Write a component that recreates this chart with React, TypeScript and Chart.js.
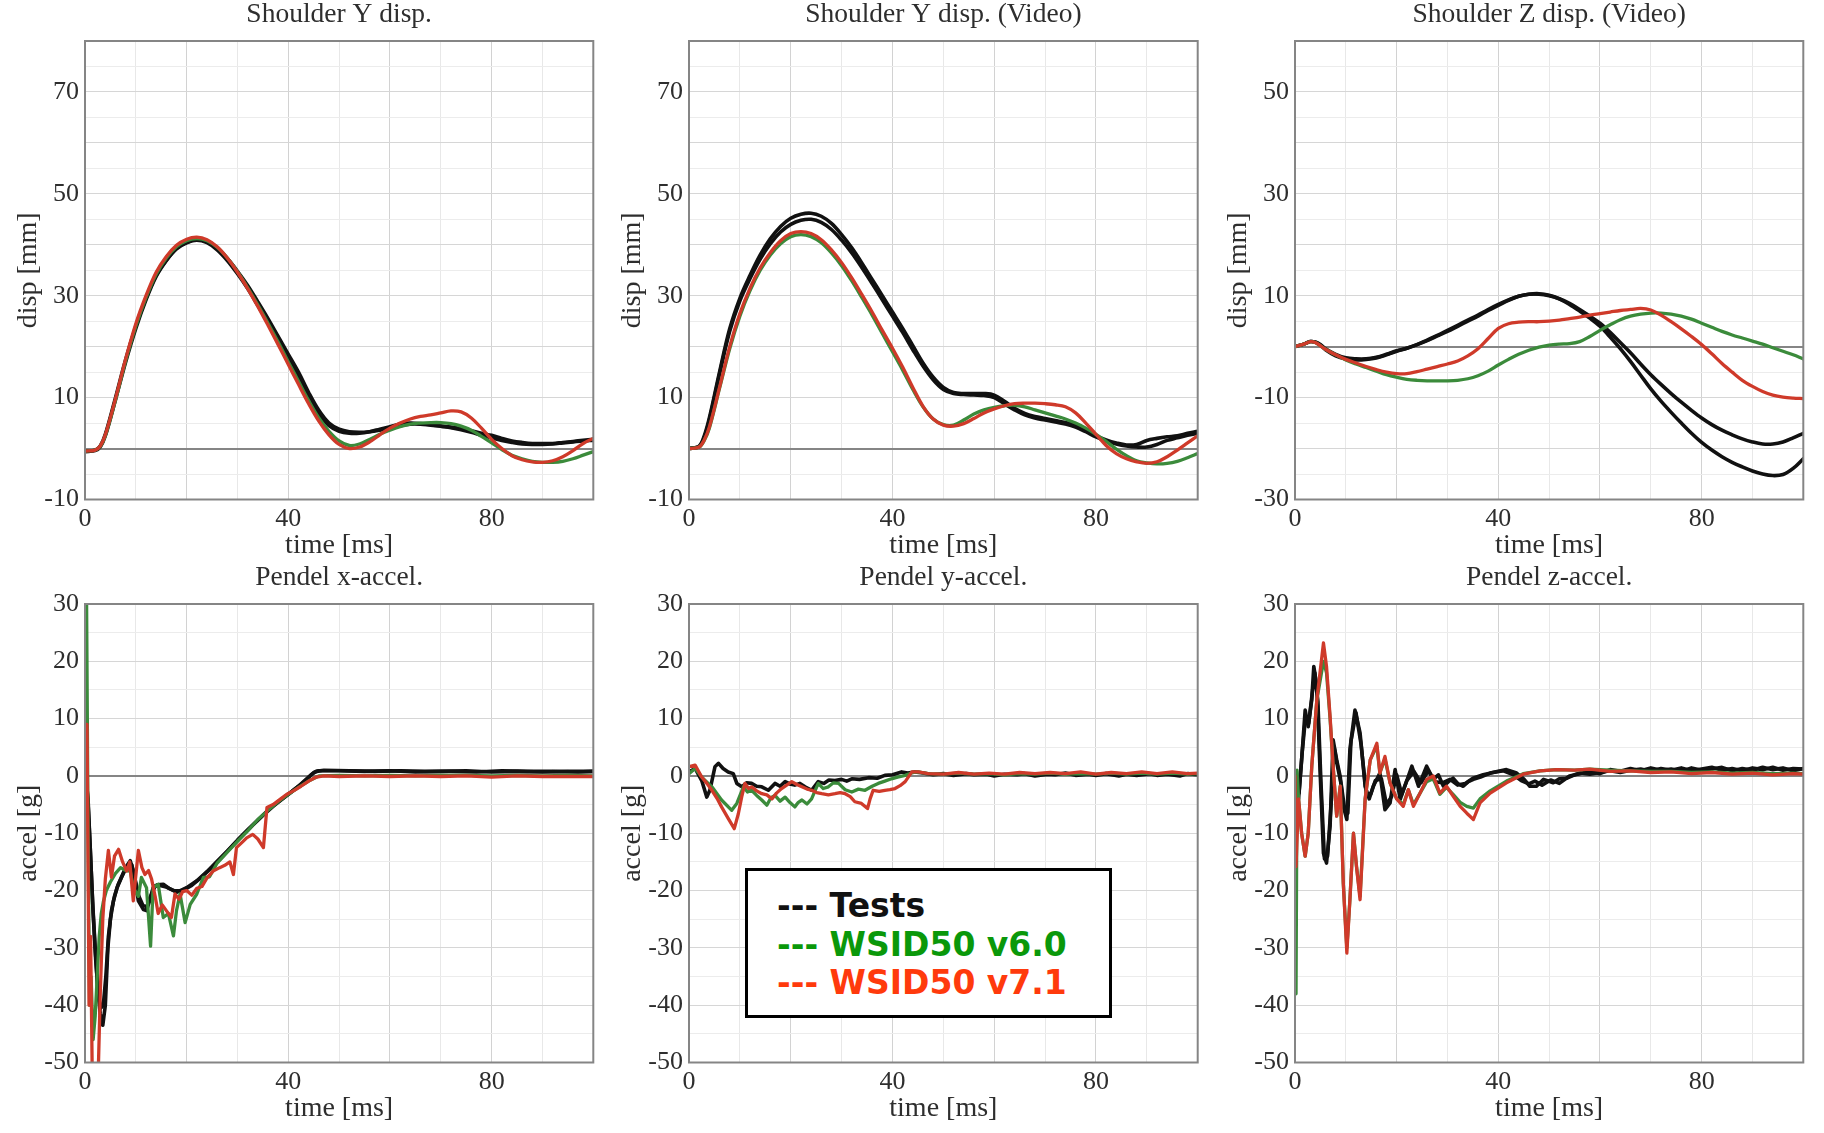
import React, { useEffect, useRef } from 'react';
import { Chart, registerables } from 'chart.js';

Chart.register(...registerables);

// ---------------- DATA ----------------
const panelTitles = [
  'Shoulder Y disp.',
  'Shoulder Y disp. (Video)',
  'Shoulder Z disp. (Video)',
  'Pendel x-accel.',
  'Pendel y-accel.',
  'Pendel z-accel.',
];
const xAxisTitle = 'time [ms]';
const yAxisTitles = ['disp [mm]', 'disp [mm]', 'disp [mm]', 'accel [g]', 'accel [g]', 'accel [g]'];
const xTickLabels = [0, 40, 80];
const yTickLabelsDispY = [-10, 10, 30, 50, 70];
const yTickLabelsDispZ = [-30, -10, 10, 30, 50];
const yTickLabelsAccel = [-50, -40, -30, -20, -10, 0, 10, 20, 30];
const legendLabels = ['Tests', 'WSID50 v6.0', 'WSID50 v7.1'];

// Panel 1: Shoulder Y disp.  [time ms, disp mm]
const p1Test1 = [[0,-0.5],[2,-0.3],[3,0.5],[4,2.8],[6,10],[8,17.5],[10,24],[12,29.5],[14,34],[16,37],[18,39.3],[20,40.5],[22,41],[24,40.6],[26,39.3],[28,37.3],[30,34.8],[32,32],[34,28.8],[36,25.5],[38,22],[40,18.5],[42,15],[44,11],[46,7.5],[48,5],[50,3.8],[52,3.3],[54,3.2],[56,3.3],[58,3.6],[60,4],[62,4.5],[64,4.8],[66,4.8],[68,4.6],[70,4.4],[72,4.2],[74,3.9],[76,3.5],[78,3],[80,2.6],[82,2],[84,1.5],[86,1.2],[88,1],[90,1],[92,1],[94,1.2],[96,1.4],[98,1.6],[100,1.8]];
const p1Test2 = [[0,-0.6],[2,-0.4],[3,0.3],[4,2.5],[6,9.6],[8,17],[10,23.6],[12,29.2],[14,33.8],[16,36.9],[18,39.2],[20,40.4],[22,40.9],[24,40.4],[26,39],[28,36.9],[30,34.3],[32,31.4],[34,28.1],[36,24.7],[38,21.2],[40,17.6],[42,14],[44,10.2],[46,6.8],[48,4.5],[50,3.4],[52,3],[54,3],[56,3.3],[58,3.8],[60,4.3],[62,4.8],[64,5],[66,4.9],[68,4.7],[70,4.4],[72,4.1],[74,3.7],[76,3.2],[78,2.6],[80,2.1],[82,1.6],[84,1.2],[86,0.9],[88,0.8],[90,0.8],[92,0.9],[94,1.1],[96,1.3],[98,1.5],[100,1.6]];
const p1V60 = [[0,-0.5],[2,-0.3],[3,0.4],[4,2.5],[6,9.5],[8,17.2],[10,24],[12,29.6],[14,34.2],[16,37.4],[18,39.6],[20,40.8],[22,41.2],[24,40.8],[26,39.5],[28,37.4],[30,34.7],[32,31.6],[34,28.2],[36,24.6],[38,20.9],[40,17],[42,13.2],[44,9.4],[46,6],[48,3.4],[50,1.5],[52,0.6],[54,0.9],[56,1.8],[58,2.8],[60,3.6],[62,4.3],[64,4.8],[66,5],[68,5.1],[70,5.1],[72,4.9],[74,4.4],[76,3.6],[78,2.4],[80,1.1],[82,-0.2],[84,-1.3],[86,-2],[88,-2.5],[90,-2.7],[92,-2.7],[94,-2.5],[96,-2],[98,-1.3],[100,-0.6]];
const p1V71 = [[0,-0.5],[2,-0.3],[3,0.5],[4,2.7],[6,9.8],[8,17.6],[10,24.5],[12,30],[14,34.6],[16,37.7],[18,39.9],[20,41.1],[22,41.5],[24,41],[26,39.6],[28,37.4],[30,34.6],[32,31.4],[34,27.9],[36,24.2],[38,20.4],[40,16.5],[42,12.6],[44,8.8],[46,5.4],[48,2.7],[50,0.8],[52,0],[54,0.3],[56,1.3],[58,2.7],[60,4],[62,5],[64,5.8],[66,6.3],[68,6.6],[70,7],[72,7.4],[74,7.2],[76,6],[78,4],[80,1.8],[82,0],[84,-1.4],[86,-2.2],[88,-2.6],[90,-2.7],[92,-2.4],[94,-1.6],[96,-0.4],[98,1],[100,2]];

// Panel 2: Shoulder Y disp. (Video)
const p2Test1 = [[0,0],[2,0.5],[3,2.5],[4,6],[6,15],[8,23.5],[10,29.5],[12,34],[14,38],[16,41.2],[18,43.6],[20,45.2],[22,46],[24,46.2],[26,45.6],[28,44.2],[30,42],[32,39.4],[34,36.4],[36,33.2],[38,30],[40,26.8],[42,23.6],[44,20.2],[46,16.8],[48,14],[50,12],[52,11],[54,10.8],[56,10.8],[58,10.8],[60,10.5],[62,9.3],[64,7.9],[66,6.9],[68,6.3],[70,5.9],[72,5.5],[74,5.1],[76,4.5],[78,3.5],[80,2.5],[82,1.7],[84,1.1],[86,0.7],[88,0.8],[90,1.6],[92,2],[94,2.3],[96,2.5],[98,3],[100,3.4]];
const p2Test2 = [[0,0],[2,0.4],[3,2.2],[4,5.6],[6,14.6],[8,23],[10,29],[12,33.4],[14,37.2],[16,40.2],[18,42.5],[20,44],[22,44.8],[24,45],[26,44.4],[28,43],[30,40.9],[32,38.4],[34,35.5],[36,32.4],[38,29.2],[40,26],[42,22.8],[44,19.4],[46,16.2],[48,13.5],[50,11.6],[52,10.8],[54,10.6],[56,10.5],[58,10.4],[60,10],[62,8.8],[64,7.6],[66,6.6],[68,6],[70,5.6],[72,5.2],[74,4.8],[76,4.2],[78,3.3],[80,2.3],[82,1.5],[84,0.9],[86,0.5],[88,0.3],[90,0.3],[92,0.8],[94,1.6],[96,2.1],[98,2.6],[100,3]];
const p2V60 = [[0,0],[2,0.3],[3,1.6],[4,4],[6,11.8],[8,19.6],[10,26],[12,31],[14,35],[16,38],[18,40.2],[20,41.6],[22,42],[24,41.6],[26,40.4],[28,38.4],[30,35.9],[32,32.9],[34,29.6],[36,26.2],[38,22.6],[40,19],[42,15.4],[44,11.6],[46,8.2],[48,5.8],[50,4.7],[52,4.6],[54,5.6],[56,6.8],[58,7.6],[60,8.1],[62,8.4],[64,8.5],[66,8.2],[68,7.6],[70,7],[72,6.4],[74,5.8],[76,5],[78,4],[80,2.8],[82,1.4],[84,-0.1],[86,-1.4],[88,-2.4],[90,-2.8],[92,-3],[94,-2.9],[96,-2.5],[98,-1.8],[100,-1]];
const p2V71 = [[0,0],[2,0.3],[3,1.7],[4,4.2],[6,12],[8,20],[10,26.5],[12,31.5],[14,35.5],[16,38.5],[18,40.8],[20,42.2],[22,42.6],[24,42.2],[26,41],[28,39],[30,36.5],[32,33.5],[34,30.2],[36,26.8],[38,23.2],[40,19.7],[42,16],[44,12],[46,8.3],[48,5.8],[50,4.6],[52,4.4],[54,4.9],[56,5.9],[58,7],[60,7.8],[62,8.4],[64,8.8],[66,8.9],[68,8.9],[70,8.8],[72,8.6],[74,8.2],[76,7],[78,5],[80,2.8],[82,0.6],[84,-1],[86,-2],[88,-2.6],[90,-2.9],[92,-2.6],[94,-1.6],[96,-0.3],[98,1.1],[100,2.5]];

// Panel 3: Shoulder Z disp. (Video)
const p3Test1 = [[0,0],[2,0.6],[3,1],[4,0.9],[5,0.4],[6,-0.4],[8,-1.5],[10,-2.2],[12,-2.4],[14,-2.4],[16,-2.1],[18,-1.5],[20,-0.8],[22,-0.3],[24,0.4],[26,1.3],[28,2.2],[30,3.2],[32,4.2],[34,5.2],[36,6.2],[38,7.3],[40,8.3],[42,9.2],[44,9.9],[46,10.3],[48,10.3],[50,10],[52,9.4],[54,8.5],[56,7.3],[58,6],[60,4.6],[62,2.8],[64,0.8],[66,-1.2],[68,-3.4],[70,-5.5],[72,-7.4],[74,-9.2],[76,-10.9],[78,-12.5],[80,-14],[82,-15.3],[84,-16.4],[86,-17.3],[88,-18.1],[90,-18.7],[92,-19.1],[94,-19.1],[96,-18.7],[98,-17.9],[100,-17]];
const p3Test2 = [[0,0],[2,0.6],[3,1],[4,0.9],[5,0.3],[6,-0.6],[8,-1.8],[10,-2.4],[12,-2.6],[14,-2.5],[16,-2.2],[18,-1.6],[20,-0.9],[22,-0.3],[24,0.4],[26,1.2],[28,2.1],[30,3],[32,4],[34,5],[36,6],[38,7.1],[40,8.1],[42,9.1],[44,9.9],[46,10.3],[48,10.4],[50,10.1],[52,9.4],[54,8.3],[56,7],[58,5.6],[60,4],[62,1.9],[64,-0.4],[66,-2.9],[68,-5.6],[70,-8.3],[72,-10.7],[74,-12.9],[76,-15],[78,-17],[80,-18.8],[82,-20.3],[84,-21.6],[86,-22.7],[88,-23.6],[90,-24.4],[92,-25],[94,-25.3],[96,-25.1],[98,-23.9],[100,-22]];
const p3V60 = [[0,0],[2,0.6],[3,1],[4,0.8],[6,-0.5],[8,-1.6],[10,-2.6],[12,-3.4],[14,-4.1],[16,-4.8],[18,-5.5],[20,-6],[22,-6.4],[24,-6.6],[26,-6.7],[28,-6.7],[30,-6.7],[32,-6.6],[34,-6.3],[36,-5.7],[38,-4.8],[40,-3.6],[42,-2.5],[44,-1.5],[46,-0.7],[48,-0.1],[50,0.3],[52,0.5],[54,0.6],[56,1],[58,2],[60,3.2],[62,4.3],[64,5.3],[66,6],[68,6.4],[70,6.6],[72,6.6],[74,6.4],[76,6],[78,5.4],[80,4.6],[82,3.8],[84,3],[86,2.3],[88,1.7],[90,1.1],[92,0.5],[94,-0.2],[96,-0.9],[98,-1.6],[100,-2.4]];
const p3V71 = [[0,0],[2,0.6],[3,1],[4,0.8],[6,-0.5],[8,-1.6],[10,-2.5],[12,-3.2],[14,-3.9],[16,-4.5],[18,-5],[20,-5.3],[22,-5.3],[24,-4.9],[26,-4.4],[28,-3.9],[30,-3.4],[32,-2.8],[34,-1.8],[36,-0.4],[38,1.6],[40,3.6],[42,4.5],[44,4.8],[46,4.9],[48,4.9],[50,5],[52,5.2],[54,5.5],[56,5.8],[58,6.2],[60,6.5],[62,6.8],[64,7.1],[66,7.3],[68,7.5],[70,7.2],[72,6.2],[74,4.9],[76,3.5],[78,2],[80,0.4],[82,-1.4],[84,-3.3],[86,-5],[88,-6.6],[90,-7.8],[92,-8.8],[94,-9.5],[96,-9.9],[98,-10.1],[100,-10.2]];

// Panel 4: Pendel x-accel.  [time ms, accel g]
const p4Test1 = [[0,0],[0.5,-3],[1,-12],[1.5,-22],[2,-30],[2.5,-37],[3,-41.5],[3.5,-43.5],[4,-40],[4.5,-30],[5,-25],[5.6,-21.8],[6.3,-19.5],[6.9,-18.3],[7.6,-16.8],[8.2,-15.7],[8.9,-14.8],[9.5,-16.6],[10,-19],[10.5,-21.8],[11.5,-23.3],[12.1,-23.5],[12.8,-21.5],[13.4,-19.5],[14.2,-19],[15.4,-18.9],[16.5,-19.6],[18,-20.3],[20,-19.5],[22,-18.3],[24,-16.7],[26,-14.9],[28,-13.1],[30,-11.2],[32,-9.4],[34,-7.7],[36,-6],[38,-4.5],[40,-3.2],[42,-1.8],[43,-1],[44,-0.2],[45,0.6],[46,0.9],[50,0.9],[55,0.8],[60,0.9],[65,0.7],[70,0.8],[75,0.9],[80,0.7],[85,0.8],[90,0.7],[95,0.8],[100,0.8]];
const p4Test2 = [[0,0],[0.6,-4],[1.1,-14],[1.6,-24],[2.1,-32],[2.6,-38],[3.1,-40.5],[3.6,-40],[4.1,-35],[4.6,-28],[5.2,-23.5],[5.8,-21],[6.5,-19],[7.2,-17.6],[7.9,-16.4],[8.6,-15.4],[9.2,-15.5],[9.8,-17.8],[10.6,-21],[11.4,-22.6],[12.2,-22.8],[13,-20.8],[13.8,-19.2],[14.8,-19.1],[16,-19.4],[17.5,-20],[19,-20.1],[21,-19.1],[23,-17.6],[25,-15.9],[27,-14.1],[29,-12.2],[31,-10.4],[33,-8.6],[35,-6.9],[37,-5.3],[39,-3.9],[41,-2.5],[43,-1.1],[44.5,0.2],[45.5,0.8],[47,1],[52,0.9],[57,0.8],[62,0.9],[67,0.8],[72,0.8],[77,0.7],[82,0.9],[87,0.8],[92,0.8],[97,0.7],[100,0.8]];
const p4V60 = [[0,0],[0.1,32],[0.3,32],[0.6,-10],[0.9,-40],[1.2,-35],[1.6,-46],[2,-42],[2.4,-35],[2.8,-28],[3.2,-24],[3.6,-22],[4.2,-20],[5,-18.5],[6,-17],[7,-16],[8,-16.5],[8.9,-16.6],[9.5,-19.5],[10.5,-21],[11.1,-17.7],[12.1,-19.5],[12.9,-29.7],[13.4,-19.5],[14.4,-18.9],[15.4,-24.7],[16.4,-24],[17.4,-27.9],[18,-23.5],[18.7,-20.6],[19.7,-25.6],[20.7,-22.4],[22,-20.6],[23.3,-17.7],[24.5,-17.6],[26,-15.2],[28,-13.3],[30,-11.4],[32,-9.6],[34,-7.6],[35.5,-6.4],[36,-6],[38,-4.5],[40,-3.2],[42,-2],[44,-0.9],[46,0],[50,0.1],[55,0],[60,0.1],[65,0],[70,0.1],[75,0.1],[80,0],[85,0.1],[90,0],[95,0.1],[100,0]];
const p4V71 = [[0,0],[0.2,9],[0.4,9],[0.8,-40],[1.1,-28],[1.4,-50],[2.6,-52],[3,-38],[3.5,-25],[4,-18],[4.6,-13],[5.2,-17.7],[5.8,-14],[6.6,-12.8],[7.4,-15],[8.2,-16.6],[8.8,-15],[9.5,-21.8],[10.5,-13],[11.2,-16],[11.8,-17.2],[12.5,-16.5],[13.1,-18],[13.8,-21],[14.4,-24],[15.2,-22.5],[16,-23.5],[17,-24.7],[17.7,-20.6],[18.5,-21.5],[19.2,-20.2],[20,-20],[21,-20.8],[22,-19.6],[23,-19.3],[24,-17.8],[25.2,-16.6],[26.5,-16],[27.5,-15.6],[28.5,-15],[29.2,-17.2],[29.8,-12.5],[31,-11.5],[31.8,-10.8],[33,-10.2],[34,-11],[35.1,-12.5],[35.8,-5.5],[37,-5],[38.5,-4],[39.7,-3.2],[41,-2.6],[42.5,-1.8],[44,-0.9],[45.5,-0.2],[47,0],[50,-0.1],[55,0],[60,-0.1],[65,0],[70,-0.1],[75,0],[80,-0.2],[85,0],[90,-0.1],[95,-0.1],[100,-0.1]];

// Panel 5: Pendel y-accel.
const p5Test1 = [[0,0.7],[1.2,1.3],[2.5,-0.8],[3.5,-3.7],[4.1,-2.5],[5.1,1.6],[5.8,2.2],[6.7,1.3],[7.7,0.7],[8.7,0.4],[9.4,-1.3],[10.4,-1.9],[11.3,-1.2],[12.3,-1.3],[13.3,-1.8],[14.3,-1.9],[15.6,-2.5],[16.9,-1.3],[17.9,-1.8],[18.9,-1],[19.8,-1.4],[20.8,-1.6],[21.8,-1.3],[22.8,-1.9],[24.1,-2.5],[25.4,-1],[26.5,-1.3],[27.5,-0.7],[28.7,-0.8],[30,-0.6],[31,-0.9],[32,-0.5],[33.5,-0.6],[35.3,-0.3],[37,-0.4],[38.5,0.1],[40,0.2],[41.8,0.7],[43,0.5],[44.4,0.7],[46,0.5],[48,0.2],[50,0.4],[52,0.1],[54.5,0.4],[56,0.2],[58.5,0.3],[60,0],[62,0.3],[64.5,0.2],[66,0.4],[68,0],[70.5,0.3],[72,0.2],[74,0.5],[76,0.1],[78.5,0.3],[80,0.1],[82,0.4],[84.5,0],[86,0.3],[88,0.1],[90.5,0.4],[92,0.1],[94,0.3],[96.5,0],[98,0.4],[100,0.2]];
const p5V60 = [[0,0.4],[1.2,1.3],[2.5,-0.2],[4.5,-1.9],[6.4,-4.2],[8.4,-6],[9.4,-4.8],[10.7,-1.9],[11.5,-2.8],[12.3,-2.5],[13.3,-3.4],[14.3,-4.2],[15.3,-5.1],[16.1,-3.8],[16.9,-3.4],[17.9,-4.4],[18.9,-3.7],[19.8,-4.6],[20.8,-5.4],[21.5,-4.6],[22.2,-4.2],[23.2,-4.9],[24.1,-4],[25.4,-1.3],[26.4,-2.2],[27.4,-1.9],[28.4,-1.2],[29.4,-1.3],[30.7,-2.4],[32,-2.8],[33.3,-2.3],[34.6,-2.5],[36,-1.8],[37.2,-1.3],[38.5,-0.9],[39.8,-0.5],[41,-0.2],[42.5,0.1],[44,0.6],[45,0.7],[47,0.4],[50,0.3],[53,0.5],[56,0.3],[59,0.4],[62,0.2],[65,0.4],[68,0.3],[71,0.5],[74,0.3],[77,0.4],[80,0.3],[83,0.5],[86,0.3],[89,0.5],[92,0.3],[95,0.5],[98,0.3],[100,0.4]];
const p5V71 = [[0,1.6],[1.2,1.9],[2.5,-0.2],[3.5,-1.3],[4.5,-2.5],[5.5,-3.9],[6.4,-5.4],[7.7,-7.4],[8.9,-9.2],[9.7,-6.6],[10.4,-3.5],[11,-1.3],[11.7,-2.2],[12.3,-1.9],[13.3,-2.6],[14.3,-3.1],[15.3,-3.3],[16.3,-4],[17.2,-3],[18.2,-2.2],[19.2,-1.6],[20.2,-1],[21.2,-1.5],[22.2,-1.9],[23.2,-2.3],[24.1,-2.5],[25.1,-2.9],[26.1,-3.1],[27.4,-3.3],[28.7,-3.1],[29.7,-2.9],[30.7,-3.1],[31.7,-3.6],[32.6,-4.5],[33.9,-4.8],[35.1,-5.7],[35.6,-4],[36.2,-2.5],[37.4,-2.7],[38.5,-2.5],[39.5,-2.4],[40.5,-2.2],[41.5,-1.7],[42.5,-1],[43.8,0.7],[45.1,0.7],[47,0.4],[50,0.3],[53,0.6],[56,0.3],[59,0.5],[62,0.3],[65,0.6],[68,0.4],[71,0.6],[74,0.4],[77,0.7],[80,0.3],[83,0.6],[86,0.4],[89,0.7],[92,0.4],[95,0.7],[98,0.4],[100,0.5]];

// Panel 6: Pendel z-accel.
const p6Test1 = [[0,0],[0.7,-4],[1.3,2.8],[2,11.5],[2.6,8.6],[3.3,13.3],[3.7,19.1],[4.3,15.6],[4.9,1.6],[5.6,-13.5],[6.2,-15.2],[6.9,-8.8],[7.5,6.3],[8.2,2.8],[8.9,-0.1],[9.5,-5.3],[10.2,-7.6],[10.8,4.6],[11.8,11.5],[12.8,7.5],[13.8,-1.8],[14.6,-4],[15.4,-1.8],[16.7,0.5],[17.7,-5.9],[18.7,-4.7],[19.7,1.1],[20.7,-4.1],[21.6,-1.8],[23,1.7],[24.3,-1.8],[25.9,1.7],[27.2,-0.6],[28.2,0.2],[29.2,-1.8],[30.2,-1],[31.1,-0.4],[32.1,-1.4],[33.1,-1.8],[34.1,-1],[35.1,-0.6],[36.5,-0.2],[38.4,0.5],[40,0.8],[41.6,1.1],[43.6,0.5],[45,-0.5],[46.2,-1.8],[47.5,-1.8],[48.9,-0.6],[50.8,-1.2],[52,-0.5],[53.4,-0.4],[55,0.2],[56.1,0.5],[58,0.3],[60,0.6],[62,0.9],[64,0.6],[66,1],[68,1.2],[70,0.8],[72,1.3],[74,1],[76,1.4],[78,0.9],[80,1.2],[82,1.5],[84,1],[86,1.3],[88,0.9],[90,1.4],[92,1.1],[94,1.5],[96,1],[98,1.3],[100,1.2]];
const p6Test2 = [[0,0],[0.8,-3],[1.4,4],[2.1,10.5],[2.7,9.2],[3.4,14.5],[3.9,18],[4.5,13],[5.1,-1],[5.8,-14.5],[6.4,-14],[7.1,-5],[7.7,5],[8.4,1.5],[9.1,-1.5],[9.8,-6],[10.4,-6.5],[11,6],[12,11],[13,5.5],[14,-3],[14.9,-3.2],[15.8,-0.8],[17,-0.5],[18,-5],[19,-3.6],[20,0.2],[21,-3.2],[22,-0.8],[23.4,0.8],[24.8,-1.2],[26.2,0.9],[27.6,-1],[29,-1.2],[30.5,-0.6],[32,-1.6],[33.5,-1.3],[35,-0.4],[37,0.2],[39,0.6],[41,0.9],[43,0.2],[44.5,-0.8],[46,-1.4],[47.2,-0.9],[48.6,-1.6],[50.3,-0.7],[52,-1.3],[54,0],[56,0.4],[58,0.8],[60,0.4],[62,1.1],[64,0.8],[66,1.3],[68,0.9],[70,1.4],[72,1],[74,1.2],[76,0.8],[78,1.4],[80,1],[82,1.2],[84,1.5],[86,0.9],[88,1.3],[90,1],[92,1.5],[94,1.1],[96,1.4],[98,0.9],[100,1.3]];
const p6V60 = [[0,0],[0.2,-38],[0.4,1],[0.7,-4],[1.3,-10],[2,-14],[2.6,-10],[3.3,1.7],[4.3,13.3],[5.6,20],[6.2,18],[6.9,10],[7.5,1.7],[8.2,-7],[8.9,-1.8],[9.5,-18.7],[10.2,-30],[10.8,-21.6],[11.5,-10],[12.1,-15.8],[12.8,-21],[13.8,-4],[14.8,2.8],[16.1,5.2],[16.7,0.5],[17.7,3],[18.7,-1.2],[20,-4],[21.3,-5],[22.3,-2.4],[23.3,-5],[24.6,-3],[25.9,-1],[27.2,-0.5],[28.5,-3.2],[29.8,-2],[31.1,-3.2],[32.5,-4.6],[33.8,-5.3],[35.1,-5.6],[36.4,-4],[38.4,-2.6],[41.6,-0.9],[44.9,0.4],[48.2,0.9],[51.5,1.1],[55,1],[58,1.2],[62,1],[66,0.9],[70,0.8],[74,0.8],[78,0.6],[82,0.7],[86,0.5],[90,0.6],[94,0.4],[98,0.5],[100,0.4]];
const p6V71 = [[0,0],[0.2,-15.8],[0.7,-4],[1.3,-10],[2,-14],[2.6,-10],[3.3,1.7],[4.3,13.3],[5.6,23.2],[6.2,19.1],[6.9,10.4],[7.5,1.7],[8.2,-7],[8.9,-1.8],[9.5,-18.7],[10.2,-30.9],[10.8,-21.6],[11.5,-10],[12.1,-15.8],[12.8,-21.6],[13.8,-4],[14.8,2.8],[16.1,5.7],[16.7,0.5],[17.7,3.4],[18.7,-1.2],[20,-4],[21.3,-5.3],[22.3,-2.4],[23.3,-5.3],[24.6,-3],[25.9,-0.6],[27.2,0],[28.5,-3],[29.8,-1.8],[31.1,-3.5],[32.5,-5.3],[33.8,-6.5],[35.1,-7.6],[36.4,-4.7],[38.4,-3],[41.6,-1.2],[44.9,0.3],[48.2,0.9],[51.5,1.1],[55,1],[58,1.2],[62,0.8],[66,0.9],[70,0.6],[74,0.7],[78,0.4],[82,0.6],[86,0.3],[90,0.5],[94,0.2],[98,0.4],[100,0.3]];

// ---------------- STYLE / LAYOUT ----------------
const SERIF = '"Liberation Serif", "Times New Roman", serif';
const TEXT_COLOR = '#2e2e2e';
const TEST_COLOR = '#111111';
const V60_COLOR = '#3b8b3b';
const V71_COLOR = '#cf3a2a';

type Series = { data: number[][]; color: string; order: number; width: number };
type Panel = {
  title: string;
  yTitle: string;
  yMin: number;
  yMax: number;
  yLabels: number[];
  smooth: boolean;
  series: Series[];
  left: number;
  top: number;
  width: number;
  height: number;
  padR: number;
  padB: number;
};

const test = (data: number[][]): Series => ({ data, color: TEST_COLOR, order: 3, width: 3.6 });
const v60 = (data: number[][]): Series => ({ data, color: V60_COLOR, order: 2, width: 3.3 });
const v71 = (data: number[][]): Series => ({ data, color: V71_COLOR, order: 1, width: 3.3 });

const panels: Panel[] = [
  { title: panelTitles[0], yTitle: yAxisTitles[0], yMin: -10, yMax: 80, yLabels: yTickLabelsDispY, smooth: true,
    series: [test(p1Test1), test(p1Test2), v60(p1V60), v71(p1V71)],
    left: 0, top: 0, width: 604, height: 562, padR: 10.7, padB: 2.5 },
  { title: panelTitles[1], yTitle: yAxisTitles[1], yMin: -10, yMax: 80, yLabels: yTickLabelsDispY, smooth: true,
    series: [test(p2Test1), test(p2Test2), v60(p2V60), v71(p2V71)],
    left: 604, top: 0, width: 606, height: 562, padR: 12.3, padB: 2.5 },
  { title: panelTitles[2], yTitle: yAxisTitles[2], yMin: -30, yMax: 60, yLabels: yTickLabelsDispZ, smooth: true,
    series: [test(p3Test1), test(p3Test2), v60(p3V60), v71(p3V71)],
    left: 1210, top: 0, width: 614, height: 562, padR: 20.7, padB: 2.5 },
  { title: panelTitles[3], yTitle: yAxisTitles[3], yMin: -50, yMax: 30, yLabels: yTickLabelsAccel, smooth: false,
    series: [test(p4Test1), test(p4Test2), v60(p4V60), v71(p4V71)],
    left: 0, top: 563, width: 604, height: 570, padR: 10.7, padB: 10.5 },
  { title: panelTitles[4], yTitle: yAxisTitles[4], yMin: -50, yMax: 30, yLabels: yTickLabelsAccel, smooth: false,
    series: [test(p5Test1), v60(p5V60), v71(p5V71)],
    left: 604, top: 563, width: 606, height: 570, padR: 12.3, padB: 10.5 },
  { title: panelTitles[5], yTitle: yAxisTitles[5], yMin: -50, yMax: 30, yLabels: yTickLabelsAccel, smooth: false,
    series: [test(p6Test1), test(p6Test2), v60(p6V60), v71(p6V71)],
    left: 1210, top: 563, width: 614, height: 570, padR: 20.7, padB: 10.5 },
];

const framePlugin = {
  id: 'frame',
  afterDatasetsDraw(chart: any) {
    const { ctx, chartArea } = chart;
    ctx.save();
    ctx.strokeStyle = '#858585';
    ctx.lineWidth = 2;
    ctx.strokeRect(chartArea.left, chartArea.top, chartArea.right - chartArea.left, chartArea.bottom - chartArea.top);
    ctx.restore();
  },
};

function PanelChart({ p }: { p: Panel }) {
  const ref = useRef<HTMLCanvasElement>(null);
  useEffect(() => {
    const canvas = ref.current;
    if (!canvas) return;
    const chart = new Chart(canvas, {
      type: 'line',
      data: {
        datasets: p.series.map((s) => ({
          data: s.data.map(([x, y]) => ({ x, y })),
          borderColor: s.color,
          backgroundColor: s.color,
          borderWidth: s.width,
          order: s.order,
          pointRadius: 0,
          fill: false,
          tension: p.smooth ? 0.35 : 0,
          borderJoinStyle: 'round' as const,
          borderCapStyle: 'round' as const,
        })),
      },
      options: {
        animation: false,
        responsive: false,
        maintainAspectRatio: false,
        devicePixelRatio: 1,
        events: [],
        parsing: false,
        normalized: true,
        layout: { padding: { left: 0, top: 0, right: p.padR, bottom: p.padB } },
        plugins: {
          legend: { display: false },
          tooltip: { enabled: false },
          title: {
            display: true,
            text: p.title,
            fullSize: false,
            color: TEXT_COLOR,
            font: { family: SERIF, size: 27.5, weight: 'normal', lineHeight: 1 },
            padding: { top: 1, bottom: 12.5 },
          },
        },
        scales: {
          x: {
            type: 'linear',
            min: 0,
            max: 100,
            afterFit: (s: any) => { s.height = 60; },
            border: { display: false },
            grid: {
              drawTicks: false,
              color: (c: any) => (c.tick.value % 20 === 0 ? '#d2d2d2' : '#e8e8e8'),
              lineWidth: 1,
            },
            ticks: {
              stepSize: 10,
              autoSkip: false,
              maxRotation: 0,
              padding: 6.5,
              color: TEXT_COLOR,
              font: { family: SERIF, size: 26, lineHeight: 1 },
              callback: (v: any) => (xTickLabels.includes(Number(v)) ? String(v) : ''),
            },
            title: {
              display: true,
              text: xAxisTitle,
              color: TEXT_COLOR,
              font: { family: SERIF, size: 28, lineHeight: 0.975 },
              padding: { top: 0, bottom: 0 },
            },
          },
          y: {
            type: 'linear',
            min: p.yMin,
            max: p.yMax,
            afterFit: (s: any) => { s.width = 85; },
            border: { display: false },
            grid: {
              drawTicks: false,
              color: (c: any) => {
                const v = c.tick.value;
                if (v === 0) return '#858585';
                return v % 10 === 0 ? '#d6d6d6' : '#ececec';
              },
              lineWidth: (c: any) => (c.tick.value === 0 ? 2 : 1),
            },
            ticks: {
              stepSize: 5,
              autoSkip: false,
              padding: 6,
              color: TEXT_COLOR,
              font: { family: SERIF, size: 26, lineHeight: 1 },
              callback: (v: any) => (p.yLabels.includes(Number(v)) ? String(v) : ''),
            },
            title: {
              display: true,
              text: p.yTitle,
              color: TEXT_COLOR,
              font: { family: SERIF, size: 28, lineHeight: 1.2 },
              padding: { top: 12.2, bottom: 0 },
            },
          },
        },
      } as any,
      plugins: [framePlugin],
    });
    return () => chart.destroy();
  }, [p]);
  return (
    <canvas
      ref={ref}
      width={p.width}
      height={p.height}
      style={{ position: 'absolute', left: p.left, top: p.top, width: p.width, height: p.height }}
    />
  );
}

const legendColors = [TEST_COLOR, '#0a980a', '#ff3a0c'];

export default function App() {
  return (
    <div style={{ position: 'absolute', left: 0, top: 0, width: 1824, height: 1133, background: '#ffffff', overflow: 'hidden' }}>
      {panels.map((p, i) => (
        <PanelChart key={i} p={p} />
      ))}
      <div
        style={{
          position: 'absolute',
          left: 745,
          top: 868,
          width: 367,
          height: 150,
          boxSizing: 'border-box',
          border: '3px solid #000',
          background: '#fff',
          paddingLeft: 29,
          paddingTop: 16,
          fontFamily: '"DejaVu Sans", Verdana, sans-serif',
          fontWeight: 'bold',
          fontSize: 33,
          lineHeight: '38.5px',
          whiteSpace: 'pre',
        }}
      >
        {legendLabels.map((l, i) => (
          <div key={i} style={{ color: legendColors[i] }}>{'--- ' + l}</div>
        ))}
      </div>
    </div>
  );
}
